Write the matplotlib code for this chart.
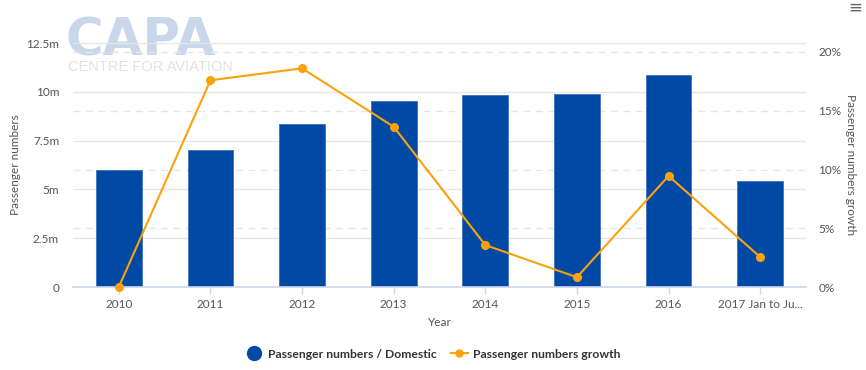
import matplotlib
matplotlib.use("Agg")
import matplotlib.pyplot as plt
from matplotlib.lines import Line2D

# Chart data
years = ['2010', '2011', '2012', '2013', '2014', '2015', '2016', '2017 Jan to Ju...']
passengers_m = [5.98, 7.03, 8.33, 9.51, 9.82, 9.90, 10.86, 5.45]  # millions
growth_pct = [0.0, 17.59, 18.61, 13.64, 3.57, 0.83, 9.45, 2.55]
left_ticks = [0, 2.5, 5, 7.5, 10, 12.5]
left_labels = ['0', '2.5m', '5m', '7.5m', '10m', '12.5m']
right_ticks = [0, 5, 10, 15, 20]
right_labels = ['0%', '5%', '10%', '15%', '20%']

bar_color = '#004aa6'
line_color = '#f9a20b'
text_color = '#555555'
grid_color = '#e6e6e6'
axis_color = '#ccd6eb'

plt.rcParams['font.family'] = ['Lato', 'DejaVu Sans']

fig = plt.figure(figsize=(8.66, 3.70), dpi=100)
rect = [73 / 866, 1 - 287 / 370, (806 - 73) / 866, (287 - 43) / 370]

ax = fig.add_axes(rect)  # bars, left axis
ax_r = ax.twinx()        # right ticks + dashed grid (below bars)
ax_l = ax.twinx()        # growth line (on top)

ax_r.set_zorder(1)
ax.set_zorder(2)
ax_l.set_zorder(3)
for a in (ax, ax_r, ax_l):
    a.patch.set_visible(False)
    for s in a.spines.values():
        s.set_visible(False)

x = range(len(years))

# bars
ax.bar(x, passengers_m, width=0.5, color=bar_color, edgecolor='#3a72c0',
       linewidth=0.6, zorder=2)
ax.set_xlim(-0.5, len(years) - 0.5)
ax.set_ylim(0, 12.5)
ax.set_yticks(left_ticks)
ax.set_yticklabels(left_labels)
ax.set_axisbelow(True)
ax.yaxis.grid(True, color=grid_color, linewidth=1, linestyle='-')
ax.tick_params(axis='y', length=0, pad=10, labelsize=8.5, labelcolor=text_color)
ax.set_xticks(list(x))
ax.set_xticklabels(years)
ax.tick_params(axis='x', length=5, width=1, color=axis_color, pad=4,
               labelsize=8.5, labelcolor=text_color)
ax.spines['bottom'].set_visible(True)
ax.spines['bottom'].set_color(axis_color)
ax.spines['bottom'].set_linewidth(1.2)
ax.set_xlabel('Year', color=text_color, fontsize=8.5, labelpad=5)
ax.set_ylabel('Passenger numbers', color=text_color, fontsize=8.5)
ax.yaxis.set_label_coords(-0.071, 0.5)

# right axis with dashed grid
right_max = 20 * 244 / 235
ax_r.set_ylim(0, right_max)
ax_r.set_yticks(right_ticks)
ax_r.set_yticklabels(right_labels)
ax_r.yaxis.grid(True, color=grid_color, linewidth=1, linestyle=(0, (5, 4)))
ax_r.tick_params(axis='y', length=0, pad=9, labelsize=8.5, labelcolor=text_color)
ax_r.set_ylabel('Passenger numbers growth', color=text_color, fontsize=8.5,
                rotation=270, labelpad=10)

# growth line
ax_l.set_ylim(0, right_max)
ax_l.plot(list(x), growth_pct, color=line_color, linewidth=1.5, marker='o',
          markersize=5.5, clip_on=False)
ax_l.set_yticks([])

# CAPA watermark
fig.text(66 / 866, 1 - 55 / 370, 'CAPA', fontsize=37, fontweight='bold',
         color='#c9d7ec', zorder=0, family='DejaVu Sans', va='baseline')
fig.text(68 / 866, 1 - 71 / 370, 'CENTRE FOR AVIATION', fontsize=10.5,
         color='#e2e2e2', zorder=0, family='Liberation Sans', va='baseline')

# menu icon
fig.text(855 / 866, 1 - 8 / 370, '≡', fontsize=12, color='#666666',
         ha='center', va='center', family='DejaVu Sans')

# legend
handles = [
    Line2D([], [], linestyle='none', marker='o', markersize=10, color=bar_color),
    Line2D([], [], color=line_color, linewidth=1.5, marker='o', markersize=5),
]
leg = fig.legend(handles, ['Passenger numbers / Domestic', 'Passenger numbers growth'],
                 loc='center', bbox_to_anchor=(0.5, 1 - 354 / 370), ncol=2,
                 frameon=False, fontsize=8.7, handlelength=1.4, handletextpad=0.4,
                 columnspacing=1.2)
for t in leg.get_texts():
    t.set_fontweight('bold')
    t.set_color('#333333')

fig.savefig('out.png', dpi=100)
